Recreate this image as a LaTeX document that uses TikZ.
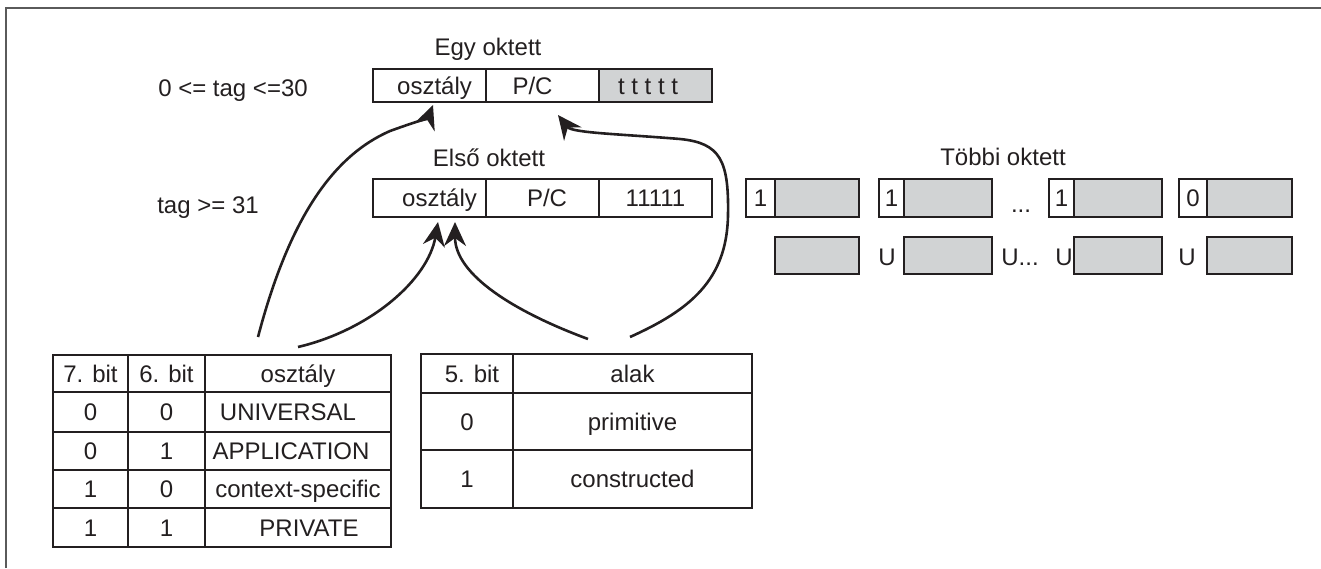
\documentclass[tikz,border=0pt]{standalone}
\usepackage{fontspec}
\setmainfont{Liberation Sans}
\usetikzlibrary{arrows.meta}
\definecolor{ink}{HTML}{231F20}
\definecolor{cellgray}{HTML}{D1D3D4}
\definecolor{framegray}{HTML}{5A5A5A}

% cell: name, x1, y1, x2, y2, extra style, text
\newcommand\cellat[7]{%
  \node[cellbase,#6,minimum width={(#4-#2)*1pt},minimum height={(#5-#3)*1pt}]
    (#1) at ({(#2+#4)/2},{(#3+#5)/2}) {#7};}

\tikzset{
  cellbase/.style={draw=ink, line width=1.7pt, inner sep=0pt, outer sep=0pt,
    text height=17pt, text depth=0pt, fill=white},
  graycell/.style={fill=cellgray},
  caption/.style={anchor=base, inner sep=0pt},
  conn/.style={draw=ink, line width=2.6pt,
    -{Stealth[length=24pt,width=22pt,inset=8pt]}},
}

\begin{document}
\begin{tikzpicture}[x=1pt,y=-1pt,
  every node/.style={font=\fontsize{24}{28}\selectfont, text=ink}]
\useasboundingbox (0,0) rectangle (1321,568);

% frame lines
\draw[framegray, line width=2pt] (6,568) -- (6,8) -- (1321,8);

% one-octet identifier
\node[caption] (egy) at (488,55) {Egy oktett};
\node[caption] (lbl1) at (233,96) {0 <= tag <=30};
\cellat{o1}{373}{69}{486}{102}{}{\hspace*{10pt}osztály}
\cellat{p1}{486}{69}{599}{102}{}{P/C\hspace*{20pt}}
\cellat{t1}{599}{69}{712}{102}{graycell}{t t t t t\hspace*{15pt}}

% multi-octet identifier, first octet
\node[caption] (elso) at (489,166) {Első oktett};
\node[caption] (lbl2) at (208,213) {tag >= 31};
\cellat{o2}{373}{179}{486}{217}{}{\hspace*{20pt}osztály}
\cellat{p2}{486}{179}{599}{217}{}{\hspace*{9pt}P/C}
\cellat{n2}{599}{179}{712}{217}{}{11111}

% following octets
\node[caption] (tobbi) at (1003,165) {Többi oktett};
\cellat{g1}{775}{179}{859}{217}{graycell}{}
\cellat{w1}{746}{179}{775}{217}{}{1}
\cellat{g2}{904}{179}{992}{217}{graycell}{}
\cellat{w2}{879}{179}{904}{217}{}{1}
\node[caption] (dots1) at (1021,212) {...};
\cellat{g3}{1074}{179}{1162}{217}{graycell}{}
\cellat{w3}{1049}{179}{1074}{217}{}{1}
\cellat{g4}{1207}{179}{1292}{217}{graycell}{}
\cellat{w4}{1179}{179}{1207}{217}{}{0}

\cellat{h1}{775}{237}{859}{274}{graycell}{}
\node[caption] (u1) at (887,265) {U};
\cellat{h2}{904}{237}{992}{274}{graycell}{}
\node[caption] (u2) at (1020,265) {U...};
\node[caption] (u3) at (1064,265) {U};
\cellat{h3}{1074}{237}{1162}{274}{graycell}{}
\node[caption] (u4) at (1187,265) {U};
\cellat{h4}{1207}{237}{1292}{274}{graycell}{}

% class table
\cellat{a11}{53}{355}{128}{392}{}{7. bit}
\cellat{a12}{128}{355}{205}{392}{}{6. bit}
\cellat{a13}{205}{355}{391}{392}{}{osztály}
\cellat{a21}{53}{392}{128}{432}{}{0}
\cellat{a22}{128}{392}{205}{432}{}{0}
\cellat{a23}{205}{392}{391}{432}{}{UNIVERSAL\hspace*{20pt}}
\cellat{a31}{53}{432}{128}{470}{}{0}
\cellat{a32}{128}{432}{205}{470}{}{1}
\cellat{a33}{205}{432}{391}{470}{}{APPLICATION\hspace*{14pt}}
\cellat{a41}{53}{470}{128}{508}{}{1}
\cellat{a42}{128}{470}{205}{508}{}{0}
\cellat{a43}{205}{470}{391}{508}{}{context-specific}
\cellat{a51}{53}{508}{128}{547}{}{1}
\cellat{a52}{128}{508}{205}{547}{}{1}
\cellat{a53}{205}{508}{391}{547}{}{\hspace*{22pt}PRIVATE}

% form table
\cellat{b11}{421}{354}{513}{393}{}{\hspace*{10pt}5. bit}
\cellat{b12}{513}{354}{752}{393}{}{alak}
\cellat{b21}{421}{393}{513}{450}{}{0}
\cellat{b22}{513}{393}{752}{450}{}{primitive}
\cellat{b31}{421}{450}{513}{508}{}{1}
\cellat{b32}{513}{450}{752}{508}{}{constructed}

% free ends of the connectors above the tables
\coordinate (sA) at (258,337);
\coordinate (sB) at (298,347);
\coordinate (sC) at (588,339);
\coordinate (sD) at (630,337);

% connectors
\draw[conn] (sA) .. controls (290,215) and (335,155) .. (390,131)
  .. controls (415,122) and (428,118) .. ([xshift=3.5pt,yshift=-3pt]o1.south);
\draw[conn] (sB) .. controls (370,330) and (428,280)
  .. ([xshift=8.5pt,yshift=-5pt]o2.south);
\draw[conn] (sC) .. controls (515,312) and (455,275)
  .. ([xshift=25.5pt,yshift=-5pt]o2.south);
\draw[conn] (sD) .. controls (690,310) and (727,280) .. (728,215)
  .. controls (729,160) and (720,143) .. (680,139)
  .. controls (620,134) and (572,133) .. ([xshift=15.5pt,yshift=-13pt]p1.south);
\end{tikzpicture}
\end{document}
